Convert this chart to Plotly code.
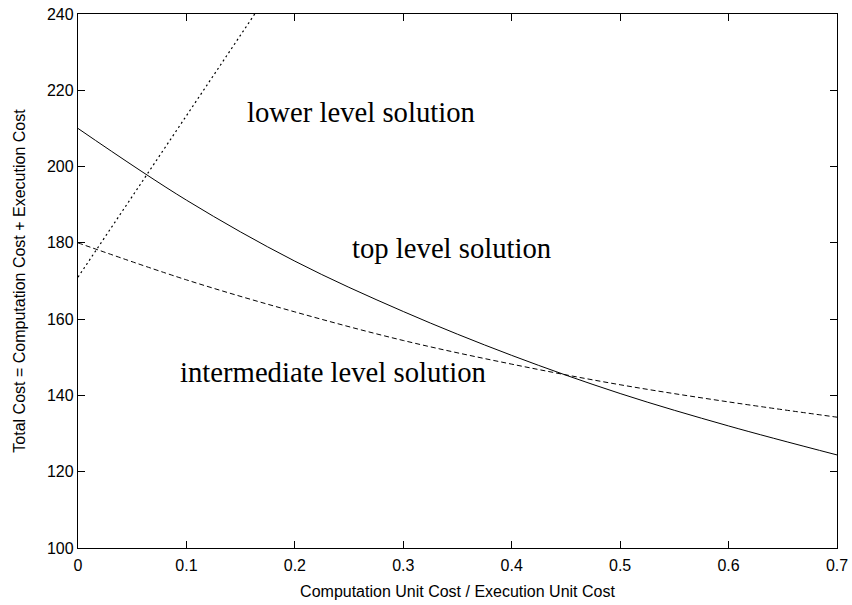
import plotly.graph_objects as go

# Data
x_top = [0.0, 0.1, 0.2, 0.3, 0.4, 0.5, 0.6, 0.7]
y_top = [210.0, 191.2, 175.2, 162.0, 150.5, 140.5, 132.0, 124.4]

x_inter = [0.0, 0.1, 0.2, 0.3, 0.4, 0.5, 0.6, 0.7]
y_inter = [180.0, 170.3, 161.9, 154.4, 148.2, 142.8, 138.3, 134.3]

x_lower = [0.0, 0.163]
y_lower = [171.0, 240.0]

labels = ["lower level solution", "top level solution", "intermediate level solution"]
label_x = [0.154, 0.251, 0.092]
label_y = [214.3, 178.6, 146.1]

x_ticks = [0, 0.1, 0.2, 0.3, 0.4, 0.5, 0.6, 0.7]
x_ticktext = ["0", "0.1", "0.2", "0.3", "0.4", "0.5", "0.6", "0.7"]
y_ticks = [100, 120, 140, 160, 180, 200, 220, 240]

fig = go.Figure()
fig.add_trace(go.Scatter(x=x_top, y=y_top, mode="lines", line=dict(color="black", width=1, shape="spline"), showlegend=False))
fig.add_trace(go.Scatter(x=x_inter, y=y_inter, mode="lines", line=dict(color="black", width=1, dash="5px,3px", shape="spline"), showlegend=False))
fig.add_trace(go.Scatter(x=x_lower, y=y_lower, mode="lines", line=dict(color="black", width=1.2, dash="2px,3px"), showlegend=False))

for t, lx, ly in zip(labels, label_x, label_y):
    fig.add_annotation(x=lx, y=ly, text=t, showarrow=False, xanchor="left", yanchor="middle",
                       font=dict(family="Liberation Serif, Times New Roman, serif", size=28.7, color="black"))

sans = "Liberation Sans, Arial, sans-serif"
axis_common = dict(showgrid=False, zeroline=False, showline=True, linecolor="black", linewidth=1.3,
                   mirror="ticks", ticks="inside", ticklen=7, tickcolor="black", tickwidth=1.3,
                   automargin=False,
                   tickfont=dict(family=sans, size=16, color="black"))

fig.update_xaxes(range=[0, 0.7], tickvals=x_ticks, ticktext=x_ticktext, ticklabelstandoff=3,
                 title=dict(text="Computation Unit Cost / Execution Unit Cost",
                            font=dict(family=sans, size=16, color="black"),
                            standoff=12),
                 **axis_common)
fig.update_yaxes(range=[100, 240], tickvals=y_ticks, ticklabelstandoff=0,
                 title=dict(text="Total Cost = Computation Cost + Execution Cost",
                            font=dict(family=sans, size=16, color="black"),
                            standoff=17),
                 **axis_common)

fig.update_layout(width=852, height=605, margin=dict(l=78, r=15, t=14, b=57),
                  paper_bgcolor="white", plot_bgcolor="white")

fig.write_html("out.html")
